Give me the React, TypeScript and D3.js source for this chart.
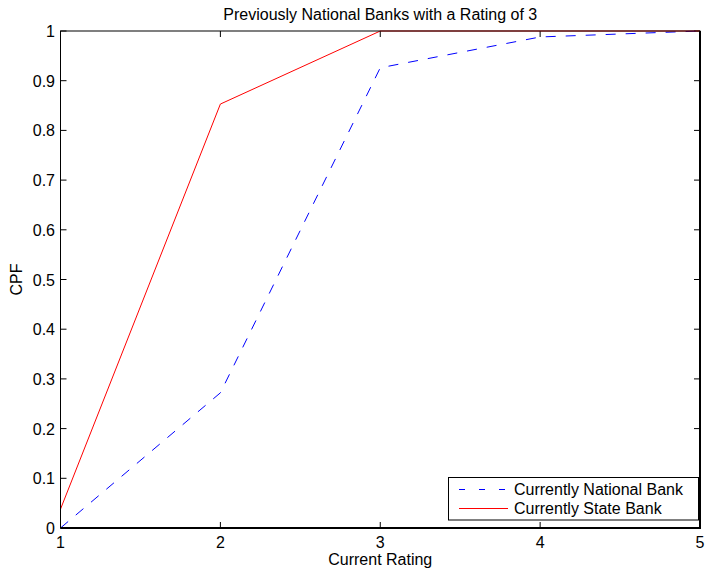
import React from 'react';
import * as d3 from 'd3';

const ratings = [1, 2, 3, 4, 5];
const nationalCpf = [0, 0.272, 0.926, 0.988, 1];
const stateCpf = [0.038, 0.853, 1, 1, 1];
const xTicks = [1, 2, 3, 4, 5];
const yTicks = [0, 0.1, 0.2, 0.3, 0.4, 0.5, 0.6, 0.7, 0.8, 0.9, 1];

const series = [
  { name: 'Currently National Bank', values: nationalCpf, color: '#0000ff', dash: '10,10' },
  { name: 'Currently State Bank', values: stateCpf, color: '#ff0000', dash: null },
];

const App = () => {
  const ref = React.useRef(null);

  React.useEffect(() => {
    const svg = d3.select(ref.current);
    svg.selectAll('*').remove();

    const left = 60.5, right = 700, top = 31, bottom = 528;
    const font = 'Liberation Sans, Arial, sans-serif';

    const x = d3.scaleLinear().domain([1, 5]).range([left, right]);
    const y = d3.scaleLinear().domain([0, 1]).range([bottom, top]);

    // ticks on all four sides, pointing inward
    const g = svg.append('g').attr('stroke', '#000').attr('stroke-width', 1);
    xTicks.forEach(t => {
      g.append('line').attr('x1', x(t)).attr('x2', x(t)).attr('y1', bottom).attr('y2', bottom - 6);
      g.append('line').attr('x1', x(t)).attr('x2', x(t)).attr('y1', top).attr('y2', top + 6);
    });
    yTicks.forEach(t => {
      g.append('line').attr('x1', left).attr('x2', left + 6).attr('y1', y(t)).attr('y2', y(t));
      g.append('line').attr('x1', right).attr('x2', right - 6).attr('y1', y(t)).attr('y2', y(t));
    });

    // lines
    const line = d3.line<number>()
      .x((d, i) => x(ratings[i]))
      .y(d => y(d));

    series.forEach(s => {
      svg.append('path')
        .attr('d', line(s.values))
        .attr('fill', 'none')
        .attr('stroke', s.color)
        .attr('stroke-width', 1)
        .attr('stroke-dasharray', s.dash);
    });

    // box
    svg.append('rect')
      .attr('x', left).attr('y', top)
      .attr('width', right - left).attr('height', bottom - top)
      .attr('fill', 'none').attr('stroke', '#000').attr('stroke-width', 1);
    svg.append('line')
      .attr('x1', left).attr('x2', right + 1).attr('y1', bottom).attr('y2', bottom)
      .attr('stroke', '#000').attr('stroke-width', 2);
    svg.append('line')
      .attr('x1', right).attr('x2', right).attr('y1', top).attr('y2', bottom)
      .attr('stroke', '#000').attr('stroke-width', 2);

    // tick labels
    svg.selectAll('.xl')
      .data(xTicks)
      .enter()
      .append('text')
      .attr('x', d => x(d))
      .attr('y', bottom + 19.5)
      .attr('text-anchor', 'middle')
      .style('font-family', font)
      .style('font-size', '16px')
      .text(d => d);

    svg.selectAll('.yl')
      .data(yTicks)
      .enter()
      .append('text')
      .attr('x', left - 5.5)
      .attr('y', d => y(d) + 6)
      .attr('text-anchor', 'end')
      .style('font-family', font)
      .style('font-size', '16px')
      .text(d => d);

    // axis labels and title
    svg.append('text')
      .attr('x', (left + right) / 2)
      .attr('y', 564.5)
      .attr('text-anchor', 'middle')
      .style('font-family', font)
      .style('font-size', '16px')
      .text('Current Rating');

    svg.append('text')
      .attr('transform', `translate(21.5, ${(top + bottom) / 2}) rotate(-90)`)
      .attr('text-anchor', 'middle')
      .style('font-family', font)
      .style('font-size', '16px')
      .text('CPF');

    svg.append('text')
      .attr('x', (left + right) / 2)
      .attr('y', 19.5)
      .attr('text-anchor', 'middle')
      .style('font-family', font)
      .style('font-size', '16px')
      .text('Previously National Banks with a Rating of 3');

    // legend
    const lg = svg.append('g');
    lg.append('rect')
      .attr('x', 448.5).attr('y', 477.5)
      .attr('width', 250).attr('height', 42.5)
      .attr('fill', '#fff').attr('stroke', '#000').attr('stroke-width', 1);
    series.forEach((s, i) => {
      const ly = 489.5 + i * 19;
      lg.append('line')
        .attr('x1', 459).attr('x2', 508).attr('y1', ly).attr('y2', ly)
        .attr('stroke', s.color).attr('stroke-width', 1)
        .attr('stroke-dasharray', s.dash ? '6,14' : null);
      lg.append('text')
        .attr('x', 514)
        .attr('y', ly + 5.5)
        .style('font-family', font)
        .style('font-size', '16px')
        .text(s.name);
    });
  }, []);

  return (
    <svg ref={ref} width={705} height={568}
      style={{ position: 'absolute', left: 0, top: 0, background: '#fff' }} />
  );
};

export default App;
